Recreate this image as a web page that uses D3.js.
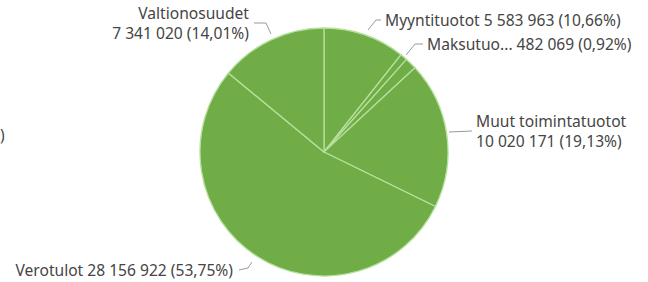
<!DOCTYPE html>
<html>
<head>
<meta charset="utf-8">
<script src="https://cdn.jsdelivr.net/npm/d3@7"></script>
<style>
  body { margin: 0; background: #fff; }
  svg text { font-family: "Segoe UI", "Noto Sans", sans-serif; font-size: 15.6px; fill: #454545; }
</style>
</head>
<body>
<div id="chart"></div>
<script>
// slices clockwise from 12 o'clock
const names = ['Myyntituotot', 'Maksutuotot', 'Tuet ja avustukset', 'Muut toimintatuotot', 'Verotulot', 'Valtionosuudet']
const values = [5583963, 482069, 801500, 10020171, 28156922, 7341020]
const labelLines = [
  ['Myyntituotot 5 583 963 (10,66%)'],
  ['Maksutuo... 482 069 (0,92%)'],
  [],
  ['Muut toimintatuotot', '10 020 171 (19,13%)'],
  ['Verotulot 28 156 922 (53,75%)'],
  ['Valtionosuudet', '7 341 020 (14,01%)']
]

const width = 648, height = 282
const cx = 324, cy = 152, radius = 124

const svg = d3.select('#chart').append('svg')
  .attr('width', width)
  .attr('height', height)

const g = svg.append('g').attr('transform', `translate(${cx},${cy})`)

const pie = d3.pie().sort(null).value(d => d)
const arcs = pie(values)
const arc = d3.arc().innerRadius(0).outerRadius(radius)

g.selectAll('path.slice')
  .data(arcs)
  .enter()
  .append('path')
  .attr('class', 'slice')
  .attr('d', arc)
  .attr('fill', '#70ad47')
  .attr('stroke', '#b5e09c')
  .attr('stroke-width', 1.3)

// label placement (text anchor point, leader line points) per slice
const labelPos = [
  {x: 385, y: 20, anchor: 'start', line: [[368, 30], [376, 20], [381, 20]]},
  {x: 427, y: 44, anchor: 'start', line: [[406, 55], [415, 44], [423, 44]]},
  null,
  {x: 476, y: 121, anchor: 'start', line: [[449, 132], [472, 131]]},
  {x: 233, y: 270, anchor: 'end', line: [[239, 270], [248, 268], [252, 262]]},
  {x: 249, y: 13, anchor: 'end', line: [[254, 23], [266, 23], [271, 34]]}
]

const lab = svg.append('g')
labelPos.forEach((p, i) => {
  if (!p) return
  lab.append('path')
    .attr('d', d3.line()(p.line))
    .attr('fill', 'none')
    .attr('stroke', '#9a9a9a')
    .attr('stroke-width', 1)
  const t = lab.append('text')
    .attr('x', p.x)
    .attr('y', p.y)
    .attr('text-anchor', p.anchor)
    .attr('dominant-baseline', 'central')
  labelLines[i].forEach((s, j) => {
    t.append('tspan').attr('x', p.x).attr('dy', j ? 20 : 0).text(s)
  })
})

// cut-off label remnant at left edge
svg.append('text').attr('x', 0).attr('y', 135).attr('dominant-baseline', 'central').text(')')
</script>
</body>
</html>
